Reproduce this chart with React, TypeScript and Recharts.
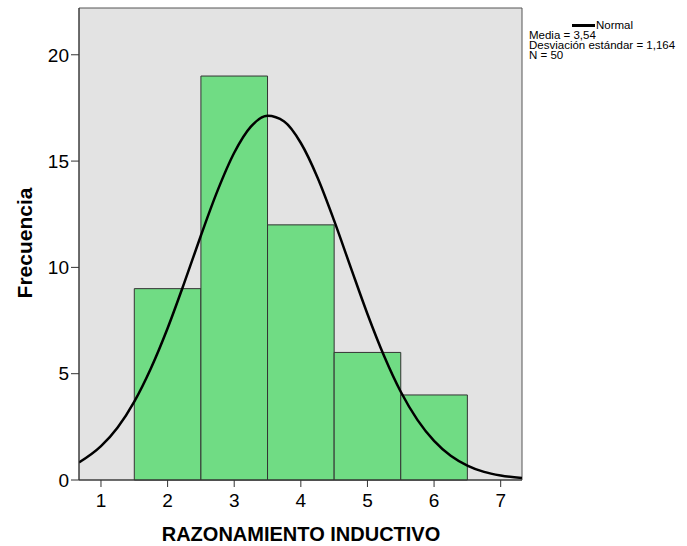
import React from "react";
import {
  ComposedChart,
  Line,
  XAxis,
  YAxis,
  ReferenceArea,
  Label
} from "recharts";

// histogram bins (centre of bin) and counts
const binCenters = [2, 3, 4, 5, 6];
const binCounts = [9, 19, 12, 6, 4];

// normal curve
const curveX = [0.67, 1, 1.25, 1.5, 1.75, 2, 2.25, 2.5, 2.75, 3, 3.25, 3.5, 3.75, 4, 4.25, 4.5, 4.75, 5, 5.25, 5.5, 5.75, 6, 6.25, 6.5, 6.75, 7, 7.32];
const curveY = [0.82, 1.59, 2.47, 3.69, 5.26, 7.14, 9.27, 11.5, 13.61, 15.39, 16.62, 17.13, 16.86, 15.85, 14.23, 12.2, 9.99, 7.81, 5.83, 4.15, 2.83, 1.84, 1.14, 0.68, 0.38, 0.21, 0.09];

const xTicks = [1, 2, 3, 4, 5, 6, 7];
const yTicks = [0, 5, 10, 15, 20];
const stats = ["Media = 3,54", "Desviación estándar = 1,164", "N = 50"];

const X_MIN = 0.67;
const X_MAX = 7.32;
const Y_MAX = 22.2;

const font = "'Liberation Sans', Arial, sans-serif";

const data = curveX.map((x, i) => ({ x, normal: curveY[i] }));

const LegendBox = () => (
  <div
    style={{
      position: "absolute",
      left: 529,
      top: 20,
      fontFamily: font,
      fontSize: 11.5,
      lineHeight: "10px",
      color: "#000",
      whiteSpace: "nowrap"
    }}
  >
    <div style={{ display: "flex", alignItems: "center", marginLeft: 43 }}>
      <span style={{ display: "inline-block", width: 23, height: 3, background: "#000", marginRight: 1 }} />
      <span>Normal</span>
    </div>
    {stats.map((s) => (
      <div key={s}>{s}</div>
    ))}
  </div>
);

export default function App() {
  return (
    <div style={{ position: "absolute", left: 0, top: 0, width: 687, height: 546, background: "#fff" }}>
      <ComposedChart
        width={687}
        height={546}
        data={data}
        margin={{ top: 8, right: 165, bottom: 36, left: 19 }}
      >
        <XAxis
          dataKey="x"
          type="number"
          domain={[X_MIN, X_MAX]}
          ticks={xTicks}
          allowDataOverflow
          height={30}
          tickSize={7}
          tickMargin={7}
          stroke="#333"
          tick={{ fill: "#000", fontSize: 19, fontFamily: font }}
        >
          <Label
            content={() => (
              <text x={301} y={541} textAnchor="middle" fontFamily={font} fontSize={20} fontWeight="bold" fill="#000">
                RAZONAMIENTO INDUCTIVO
              </text>
            )}
          />
        </XAxis>
        <YAxis
          type="number"
          domain={[0, Y_MAX]}
          ticks={yTicks}
          allowDataOverflow
          width={60}
          tickSize={8}
          tickMargin={2}
          stroke="#333"
          tick={{ fill: "#000", fontSize: 19, fontFamily: font }}
        >
          <Label
            content={() => (
              <text
                x={32}
                y={243}
                transform="rotate(-90 32 243)"
                textAnchor="middle"
                fontFamily={font}
                fontSize={21}
                fontWeight="bold"
                fill="#000"
              >
                Frecuencia
              </text>
            )}
          />
        </YAxis>
        <ReferenceArea x1={X_MIN} x2={X_MAX} y1={0} y2={Y_MAX} fill="#E3E3E3" fillOpacity={1} stroke="#555" strokeWidth={1} />
        {binCenters.map((c, i) => (
          <ReferenceArea
            key={c}
            x1={c - 0.5}
            x2={c + 0.5}
            y1={0}
            y2={binCounts[i]}
            fill="#70DC84"
            fillOpacity={1}
            stroke="#333"
            strokeWidth={1}
          />
        ))}
        <Line
          type="monotone"
          dataKey="normal"
          stroke="#000"
          strokeWidth={2.5}
          dot={false}
          isAnimationActive={false}
        />
      </ComposedChart>
      <LegendBox />
    </div>
  );
}
